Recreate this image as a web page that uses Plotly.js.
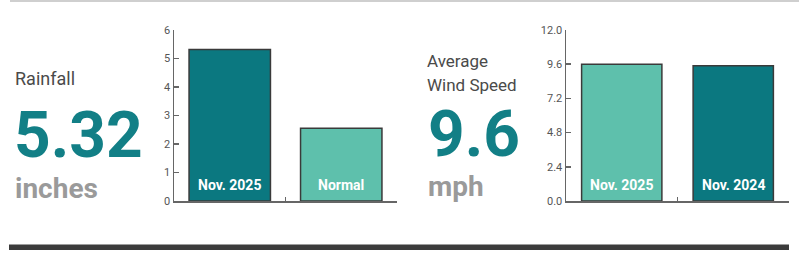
<!DOCTYPE html>
<html>
<head>
<meta charset="utf-8">
<script src="https://cdn.plot.ly/plotly-3.0.1.min.js"></script>
<style>html,body{margin:0;padding:0;background:#fff;}#chart{width:799px;height:253px;}</style>
</head>
<body>
<div id="chart"></div>
<script>
// Data
const rainCategories = ["Nov. 2025", "Normal"];
const rainValues = [5.32, 2.55];
const rainColors = ["#0b7880", "#5ec0ac"];
const windCategories = ["Nov. 2025", "Nov. 2024"];
const windValues = [9.6, 9.5];
const windColors = ["#5ec0ac", "#0b7880"];
const rainTickVals = [0, 1, 2, 3, 4, 5, 6];
const windTickVals = [0, 2.4, 4.8, 7.2, 9.6, 12.0];
const rainHeadline = { label: "Rainfall", value: "5.32", unit: "inches" };
const windHeadline = { label1: "Average", label2: "Wind Speed", value: "9.6", unit: "mph" };

const W = 799, H = 253;
const px = v => v / W;
const py = v => 1 - v / H;

const FONT = "Roboto, 'DejaVu Sans', sans-serif";
const TEAL = "#127f86";
const GRAY = "#9a9a9a";

const traces = [
  {
    type: "bar", x: rainCategories, y: rainValues, xaxis: "x", yaxis: "y",
    width: 0.73,
    marker: { color: rainColors, line: { color: "#3a3a3a", width: 1.5 } },
    hoverinfo: "skip"
  },
  {
    type: "bar", x: windCategories, y: windValues, xaxis: "x2", yaxis: "y2",
    width: 0.72,
    marker: { color: windColors, line: { color: "#3a3a3a", width: 1.5 } },
    hoverinfo: "skip"
  }
];

const axisX = {
  type: "category", range: [-0.5, 1.5], showgrid: false, zeroline: false,
  showline: true, linecolor: "#666", linewidth: 1.5,
  ticks: "inside", tickson: "boundaries", ticklen: 4, tickcolor: "#666", tickwidth: 1.5,
  showticklabels: false, fixedrange: true
};
const axisYBase = {
  showgrid: false, zeroline: false, showline: true, linecolor: "#666", linewidth: 1.5,
  ticks: "inside", ticklen: 5, tickcolor: "#666", tickwidth: 1.5,
  tickfont: { family: FONT, size: 11, color: "#555" }, fixedrange: true
};

const yDomain = [(H - 201) / H, (H - 30) / H];

const barLabels = [];
rainCategories.forEach(c => barLabels.push({
  xref: "x", yref: "y", x: c, y: 0, yanchor: "bottom", xanchor: "center", yshift: 6,
  text: "<b>" + c + "</b>", showarrow: false, font: { family: FONT, size: 14, color: "#fff" }
}));
windCategories.forEach(c => barLabels.push({
  xref: "x2", yref: "y2", x: c, y: 0, yanchor: "bottom", xanchor: "center", yshift: 6,
  text: "<b>" + c + "</b>", showarrow: false, font: { family: FONT, size: 14, color: "#fff" }
}));

const textAnn = (x, y, text, size, color, bold) => ({
  xref: "paper", yref: "paper", x: px(x), y: py(y), xanchor: "left", yanchor: "middle",
  text: bold ? "<b>" + text + "</b>" : text, showarrow: false,
  font: { family: FONT, size: size, color: color }
});

const annotations = barLabels.concat([
  textAnn(13, 78.9, rainHeadline.label, 18, "#4a4a4a", false),
  textAnn(12, 135.2, rainHeadline.value, 64, TEAL, true),
  textAnn(13, 188.5, rainHeadline.unit, 28, GRAY, true),
  textAnn(425, 61.2, windHeadline.label1, 17, "#4a4a4a", false),
  textAnn(425, 85.2, windHeadline.label2, 17, "#4a4a4a", false),
  textAnn(426, 134.2, windHeadline.value, 64, TEAL, true),
  textAnn(426, 186.5, windHeadline.unit, 28, GRAY, true)
]);

const layout = {
  width: W, height: H,
  margin: { l: 0, r: 0, t: 0, b: 0, pad: 0 },
  paper_bgcolor: "#fff", plot_bgcolor: "rgba(0,0,0,0)",
  showlegend: false,
  xaxis: Object.assign({}, axisX, { domain: [px(174), px(397)], anchor: "y" }),
  yaxis: Object.assign({}, axisYBase, { domain: yDomain, range: [0, 6], tickvals: rainTickVals, ticktext: rainTickVals.map(String), anchor: "x" }),
  xaxis2: Object.assign({}, axisX, { domain: [px(566), px(789)], anchor: "y2" }),
  yaxis2: Object.assign({}, axisYBase, { domain: yDomain, range: [0, 12], tickvals: windTickVals, ticktext: windTickVals.map(v => v.toFixed(1)), anchor: "x2" }),
  annotations: annotations,
  shapes: [
    { type: "rect", xref: "paper", yref: "paper", x0: px(10), x1: 1, y0: py(2), y1: 1, fillcolor: "#cfcfcf", line: { width: 0 }, layer: "below" },
    { type: "rect", xref: "paper", yref: "paper", x0: px(9), x1: px(789), y0: py(250), y1: py(244.5), fillcolor: "#3b3b3b", line: { width: 0 }, layer: "below" }
  ]
};

Plotly.newPlot("chart", traces, layout, { staticPlot: true, displayModeBar: false });
</script>
</body>
</html>
